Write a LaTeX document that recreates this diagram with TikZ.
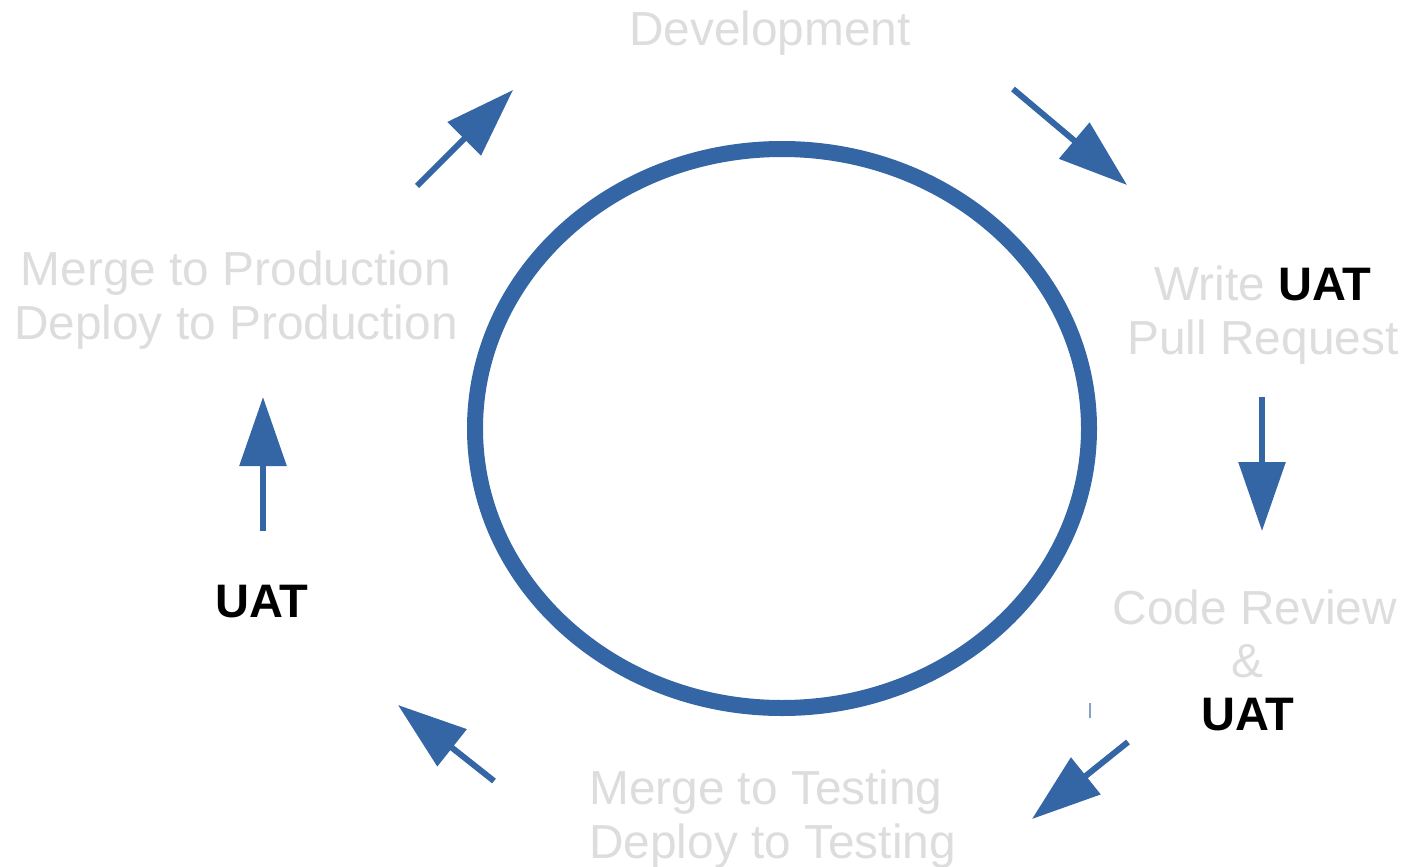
\documentclass[tikz,border=0pt]{standalone}
\usepackage{fontspec}
\setmainfont{Liberation Sans}
\usetikzlibrary{arrows.meta}
\definecolor{flowblue}{HTML}{3465A4}
\definecolor{lightgrey}{HTML}{DDDDDD}
\begin{document}
\begin{tikzpicture}[x=1pt,y=-1pt,
  lbl/.style={align=center,text=lightgrey,font=\fontsize{47.8}{54}\selectfont,inner sep=0pt},
  uat/.style={font=\fontsize{47}{54}\selectfont\bfseries,text=black,inner sep=0pt},
  flow/.style={draw=flowblue,line width=6pt,-{Triangle[length=69pt,width=46pt]},color=flowblue}]
\useasboundingbox (0,0) rectangle (1405,867);
\draw[flowblue,line width=16pt] (782,428.5) ellipse [x radius=307, y radius=279.5];
% labels
\node[lbl] (dev) at (770,33) {Development};
\node[lbl] (prod) at (236,300) {Merge to Production\\Deploy to Production};
\node[lbl,anchor=center] (write) at (1263,315) {Write \textcolor{black}{\bfseries\fontsize{47}{54}\selectfont UAT}\\Pull Request};
\node[lbl] (review) at (1255,607) {Code Review};
\node[lbl] (amp) at (1247,661) {\&};
\node[uat] (ruat) at (1248,715) {UAT};
\node[lbl,align=left,anchor=west] (test) at (589,819) {Merge to Testing\\Deploy to Testing};
\node[uat] (luat) at (262,602) {UAT};
% arrow coordinates
\coordinate (a1s) at (417,186); \coordinate (a1e) at (513,90);
\coordinate (a2s) at (1013,89); \coordinate (a2e) at (1127,185);
\coordinate (a3s) at (1262,397); \coordinate (a3e) at (1262,531);
\coordinate (a4s) at (1128,742); \coordinate (a4e) at (1032,819);
\coordinate (a5s) at (494,781); \coordinate (a5e) at (398,705);
\coordinate (a6s) at (263,531); \coordinate (a6e) at (263,397);
\draw[flow] (a1s) -- (a1e);
\draw[flow] (a2s) -- (a2e);
\draw[flow] (a3s) -- (a3e);
\draw[flow] (a4s) -- (a4e);
\draw[flow] (a5s) -- (a5e);
\draw[flow] (a6s) -- (a6e);
% small tick
\coordinate (t1) at (1090,703); \coordinate (t2) at (1090,718);
\draw[flowblue!60,line width=1.2pt] (t1) -- (t2);
\end{tikzpicture}
\end{document}
